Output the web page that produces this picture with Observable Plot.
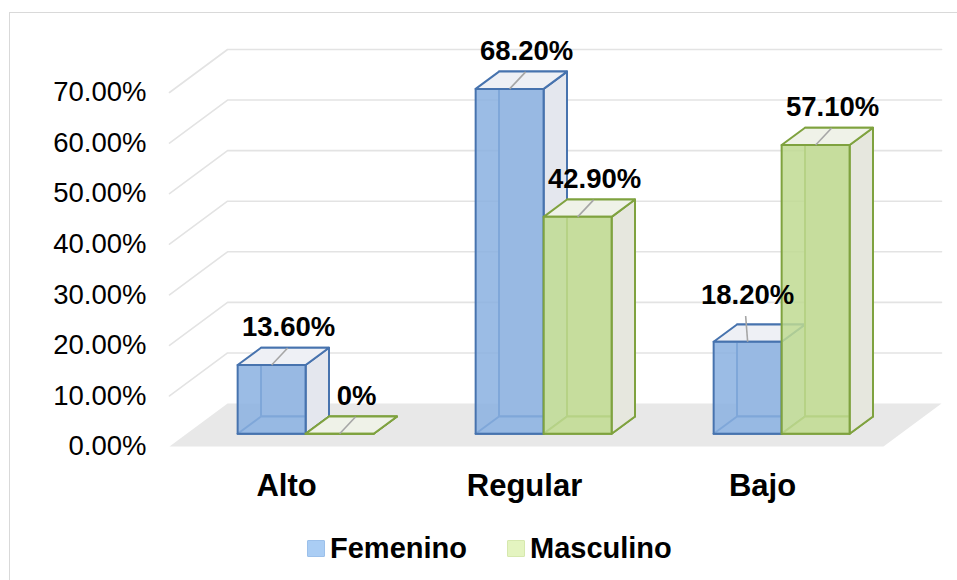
<!DOCTYPE html>
<html><head><meta charset="utf-8">
<script src="https://cdn.jsdelivr.net/npm/d3@7"></script>
<script src="https://cdn.jsdelivr.net/npm/@observablehq/plot@0.6"></script>
<style>
body{margin:0;background:#fff;font-family:"Liberation Sans",Arial,sans-serif;}
#wrap{position:relative;width:957px;height:580px;overflow:hidden;background:#fff;}
#frame{position:absolute;left:9px;top:12px;width:1200px;height:1200px;border:1.5px solid #d9d9d9;box-sizing:border-box;}
#chart{position:absolute;left:0;top:0;}
#legend{position:absolute;top:530px;left:307px;display:flex;align-items:center;font-weight:bold;font-size:29px;color:#000;line-height:36px;}
.sw{width:18px;height:17px;box-sizing:border-box;border-radius:1px;}
</style></head><body>
<div id="wrap"><div id="frame"></div><div id="chart"></div>
<div id="legend">
  <div class="sw" style="background:#AACDF4;border:1px solid #9CC0EA"></div><span style="margin-left:5px">Femenino</span>
  <div class="sw" style="background:#E4F4C0;border:1px solid #D6E8AE;margin-left:40px"></div><span style="margin-left:5px">Masculino</span>
</div></div>
<script>
// ---- data ----
const categories = ["Alto", "Regular", "Bajo"];
const femenino = [13.6, 68.2, 18.2];
const masculino = [0, 42.9, 57.1];
const seriesNames = ["Femenino", "Masculino"];
const yTicks = [0, 10, 20, 30, 40, 50, 60, 70];

// ---- layout ----
const W = 957, H = 510, mL = 169, mR = 74, mT = 92, mB = 64;
const yMax = 70;
const pxX = (W - mL - mR) / categories.length, pxY = (H - mT - mB) / yMax;
const slope = 1.35;
const px2x = p => p / pxX, px2y = p => p / pxY;
const ddx = D => px2x(D * slope), ddy = D => px2y(D);
const FLOOR = 43, BF = 12.7, BB = 30, BWpx = 68;
const BW = px2x(BWpx);
const P = (x, v, D) => ({x: x + ddx(D), y: v + ddy(D)});

const styles = [
  {edge: "#4773AE", front: "#8AB0E0", side: "#E4E7EE", top: "#EEF0F5", back: "#E6E8EE"},
  {edge: "#7FA23F", front: "#C0DA92", side: "#E6E7DE", top: "#EFF2E8", back: "#E6E7DE"}
];
const series = [femenino, masculino];

// polygon rows
function faces(s) {
  const rows = {back: [], bottom: [], right: [], top: [], front: []};
  series[s].forEach((v, i) => {
    const x0 = i + 0.5 + (s === 0 ? -BW : 0), x1 = x0 + BW;
    const poly = {
      back: [P(x0,0,BB), P(x1,0,BB), P(x1,v,BB), P(x0,v,BB)],
      bottom: [P(x0,0,BF), P(x1,0,BF), P(x1,0,BB), P(x0,0,BB)],
      right: [P(x1,0,BF), P(x1,0,BB), P(x1,v,BB), P(x1,v,BF)],
      top: [P(x0,v,BF), P(x1,v,BF), P(x1,v,BB), P(x0,v,BB)],
      front: [P(x0,0,BF), P(x1,0,BF), P(x1,v,BF), P(x0,v,BF)]
    };
    for (const f in poly) {
      const pts = poly[f];
      pts.concat([pts[0]]).forEach(p => rows[f].push({id: s + "-" + i + "-" + f, x: p.x, y: p.y}));
    }
  });
  return rows;
}

const floor = [P(0,0,0), P(3,0,0), P(3,0,FLOOR), P(0,0,FLOOR), P(0,0,0)];
const grid = [];
yTicks.filter(t => t > 0).forEach(t => {
  [P(0,t,0), P(0,t,FLOOR), P(categories.length,t,FLOOR)].forEach(p => grid.push({id: t, ...p}));
});

// labels
const labels = [];
series.forEach((vals, s) => vals.forEach((v, i) => {
  const x0 = i + 0.5 + (s === 0 ? -BW : 0);
  const cx = x0 + BW / 2;
  const other = series[1 - s][i];
  const blocked = s === 0 && other > v;
  const fx = cx + ddx(BF), fy = v + ddy(BF);          // front-top centre
  const lx = blocked ? fx : fx + px2x(17);              // label centre x
  const base = fy + px2y(blocked ? 36.7 : 28);          // baseline
  labels.push({
    text: (v === 0 ? "0" : v.toFixed(2)) + "%",
    x: lx, y: base + px2y(9.5),
    x1: fx, y1: fy, x2: lx + px2x(blocked ? -2 : -1), y2: base - px2y(11)
  });
}));

const marks = [
  Plot.line(grid, {x: "x", y: "y", z: "id", stroke: "#E3E3E3", strokeWidth: 1.6}),
  Plot.line(floor, {x: "x", y: "y", fill: "#E8E8E8", stroke: "none"}),
  Plot.text(yTicks, {x: 0, y: d => d, text: d => d.toFixed(2) + "%", textAnchor: "end", dx: -23, fontSize: 27.5, fill: "#000"}),
  Plot.text(categories, {x: (d, i) => i + 0.5, y: 0, text: d => d, dx: -2, dy: 40, fontSize: 31, fontWeight: "bold", fill: "#000"})
];
series.forEach((_, s) => {
  const rows = faces(s), st = styles[s];
  const order = [["back", st.back, 1], ["bottom", st.side, 1], ["right", st.side, 1], ["top", st.top, 1], ["front", st.front, 0.85]];
  for (const [f, col, op] of order) {
    marks.push(Plot.line(rows[f], {x: "x", y: "y", z: "id", fill: col, fillOpacity: op, stroke: st.edge, strokeWidth: 2, strokeLinejoin: "round"}));
  }
});
marks.push(Plot.link(labels, {x1: "x1", y1: "y1", x2: "x2", y2: "y2", stroke: "#A6A6A6", strokeWidth: 1.6}));
marks.push(Plot.text(labels, {x: "x", y: "y", text: "text", fontSize: 27.5, fontWeight: "bold", fill: "#000"}));

const chart = Plot.plot({
  width: W, height: H,
  marginLeft: mL, marginRight: mR, marginTop: mT, marginBottom: mB,
  x: {domain: [0, categories.length], axis: null},
  y: {domain: [0, yMax], axis: null},
  style: {fontFamily: '"Liberation Sans", Arial, sans-serif', background: "transparent", overflow: "visible"},
  marks
});
document.getElementById("chart").appendChild(chart);
</script>
</body></html>
